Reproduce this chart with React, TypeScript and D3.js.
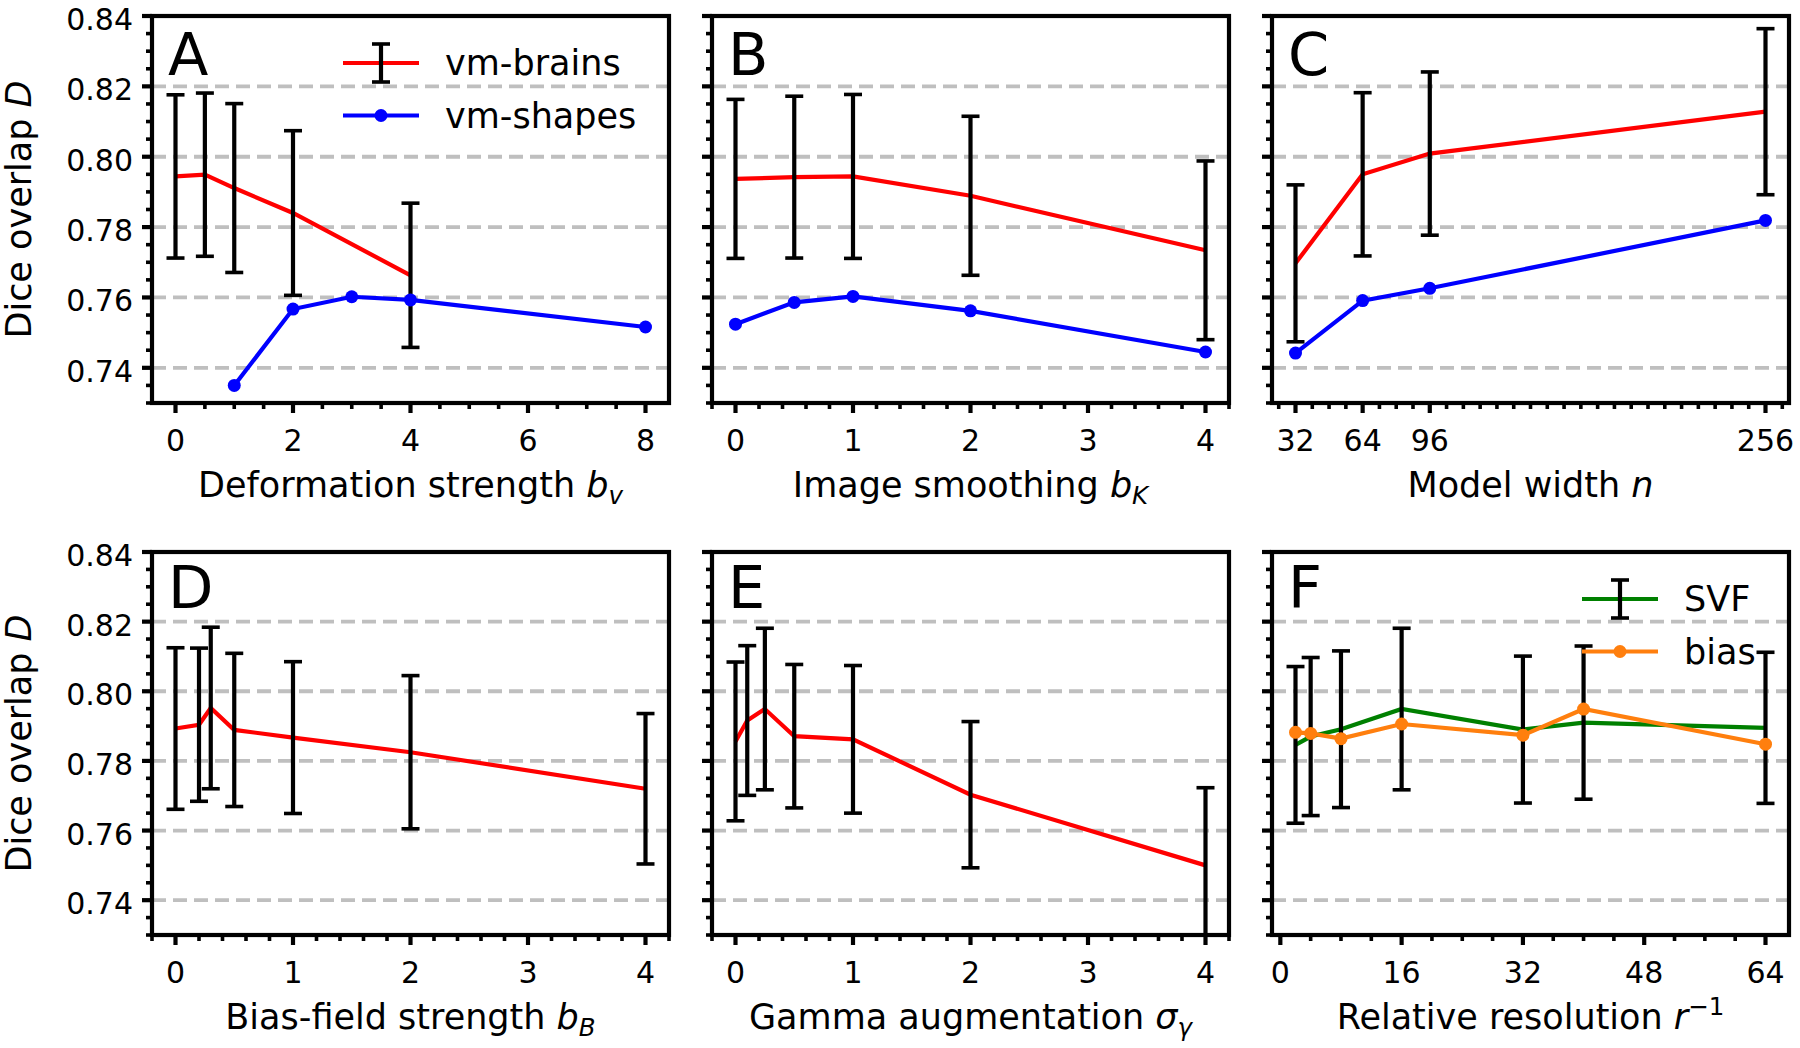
import React from 'react';
import * as d3 from 'd3';

const FONT = "'DejaVu Sans', sans-serif";
const TICK_FS = 30;
const LABEL_FS = 35;
const LETTER_FS = 59;
const LEGEND_FS = 35;

// ---------- shared axis data ----------
const yDomain: [number, number] = [0.73, 0.84];
const yTicks = [0.74, 0.76, 0.78, 0.8, 0.82, 0.84];
const yTickLabels = ['0.74', '0.76', '0.78', '0.80', '0.82', '0.84'];
const yMinorStep = 0.005;

// ---------- Panel A: deformation strength ----------
const defBrainsX = [0, 0.5, 1, 2, 4];
const defBrainsMean = [0.7944, 0.7949, 0.7911, 0.784, 0.7663];
const defBrainsErr = [0.0232, 0.0232, 0.024, 0.0234, 0.0205];
const defShapesX = [1, 2, 3, 4, 8];
const defShapesMean = [0.735, 0.7567, 0.7602, 0.7593, 0.7516];
const defTicks = [0, 2, 4, 6, 8];
const defMinor = 0.5;

// ---------- Panel B: image smoothing ----------
const smoothX = [0, 0.5, 1, 2, 4];
const smoothBrainsMean = [0.7937, 0.7942, 0.7944, 0.7889, 0.7734];
const smoothBrainsErr = [0.0226, 0.023, 0.0233, 0.0226, 0.0254];
const smoothShapesMean = [0.7524, 0.7586, 0.7603, 0.7562, 0.7445];
const smoothTicks = [0, 1, 2, 3, 4];
const smoothMinor = 0.2;

// ---------- Panel C: model width ----------
const widthX = [32, 64, 96, 256];
const widthBrainsMean = [0.7697, 0.795, 0.8009, 0.8128];
const widthBrainsErr = [0.0223, 0.0232, 0.0232, 0.0236];
const widthShapesMean = [0.7442, 0.7591, 0.7626, 0.7819];
const widthTicks = [32, 64, 96, 256];
const widthMinor = 8;

// ---------- Panel D: bias-field strength ----------
const biasFieldX = [0, 0.2, 0.3, 0.5, 1, 2, 4];
const biasFieldMean = [0.7893, 0.7904, 0.7952, 0.7889, 0.7867, 0.7825, 0.772];
const biasFieldErr = [0.0232, 0.022, 0.0232, 0.022, 0.0218, 0.022, 0.0216];
const biasFieldTicks = [0, 1, 2, 3, 4];
const biasFieldMinor = 0.2;

// ---------- Panel E: gamma augmentation ----------
const gammaX = [0, 0.1, 0.25, 0.5, 1, 2, 4];
const gammaMean = [0.7856, 0.7916, 0.7949, 0.7871, 0.7862, 0.7703, 0.75];
const gammaErr = [0.0228, 0.0215, 0.0232, 0.0206, 0.0212, 0.021, 0.0223];
const gammaTicks = [0, 1, 2, 3, 4];
const gammaMinor = 0.2;

// ---------- Panel F: relative resolution ----------
const resX = [2, 4, 8, 16, 32, 40, 64];
const resSvfMean = [0.7846, 0.787, 0.7891, 0.7949, 0.789, 0.791, 0.7895];
const resSvfErr = [0.0225, 0.0227, 0.0225, 0.0232, 0.0211, 0.022, 0.0217];
const resBiasMean = [0.7882, 0.7879, 0.7864, 0.7906, 0.7874, 0.7949, 0.7848];
const resTicks = [0, 16, 32, 48, 64];
const resMinor = 4;

// ---------- layout ----------
const COLS = [152, 712, 1272];
const PW = 517;
const ROWS = [
  { top: 16, bottom: 403 },
  { top: 552, bottom: 935 },
];
const C_RED = '#ff0000';
const C_BLUE = '#0000ff';
const C_GREEN = '#008000';
const C_ORANGE = '#ff7f0e';
const GRID = '#bfbfbf';
const LW = 4.2;

type Seg = { t: string; i?: boolean; sub?: boolean; sup?: boolean };
type Series = {
  x: number[];
  mean: number[];
  err?: number[];
  color: string;
  marker?: boolean;
};
type Legend = {
  textX: number;
  rows: { label: string; color: string; err?: boolean; marker?: boolean }[];
};
type PanelCfg = {
  id: string;
  letter: string;
  col: number;
  row: number;
  ticks: number[];
  minor: number;
  xlabel: Seg[];
  series: Series[];
  legend?: Legend;
};

const panels: PanelCfg[] = [
  {
    id: 'A', letter: 'A', col: 0, row: 0, ticks: defTicks, minor: defMinor,
    xlabel: [{ t: 'Deformation strength ' }, { t: 'b', i: true }, { t: 'v', i: true, sub: true }],
    series: [
      { x: defBrainsX, mean: defBrainsMean, err: defBrainsErr, color: C_RED },
      { x: defShapesX, mean: defShapesMean, color: C_BLUE, marker: true },
    ],
    legend: {
      textX: 445,
      rows: [
        { label: 'vm-brains', color: C_RED, err: true },
        { label: 'vm-shapes', color: C_BLUE, marker: true },
      ],
    },
  },
  {
    id: 'B', letter: 'B', col: 1, row: 0, ticks: smoothTicks, minor: smoothMinor,
    xlabel: [{ t: 'Image smoothing ' }, { t: 'b', i: true }, { t: 'K', i: true, sub: true }],
    series: [
      { x: smoothX, mean: smoothBrainsMean, err: smoothBrainsErr, color: C_RED },
      { x: smoothX, mean: smoothShapesMean, color: C_BLUE, marker: true },
    ],
  },
  {
    id: 'C', letter: 'C', col: 2, row: 0, ticks: widthTicks, minor: widthMinor,
    xlabel: [{ t: 'Model width ' }, { t: 'n', i: true }],
    series: [
      { x: widthX, mean: widthBrainsMean, err: widthBrainsErr, color: C_RED },
      { x: widthX, mean: widthShapesMean, color: C_BLUE, marker: true },
    ],
  },
  {
    id: 'D', letter: 'D', col: 0, row: 1, ticks: biasFieldTicks, minor: biasFieldMinor,
    xlabel: [{ t: 'Bias-field strength ' }, { t: 'b', i: true }, { t: 'B', i: true, sub: true }],
    series: [{ x: biasFieldX, mean: biasFieldMean, err: biasFieldErr, color: C_RED }],
  },
  {
    id: 'E', letter: 'E', col: 1, row: 1, ticks: gammaTicks, minor: gammaMinor,
    xlabel: [{ t: 'Gamma augmentation ' }, { t: 'σ', i: true }, { t: 'γ', i: true, sub: true }],
    series: [{ x: gammaX, mean: gammaMean, err: gammaErr, color: C_RED }],
  },
  {
    id: 'F', letter: 'F', col: 2, row: 1, ticks: resTicks, minor: resMinor,
    xlabel: [{ t: 'Relative resolution ' }, { t: 'r', i: true }, { t: '−1', sup: true }],
    series: [
      { x: resX, mean: resSvfMean, err: resSvfErr, color: C_GREEN },
      { x: resX, mean: resBiasMean, color: C_ORANGE, marker: true },
    ],
    legend: {
      textX: 1684,
      rows: [
        { label: 'SVF', color: C_GREEN, err: true },
        { label: 'bias', color: C_ORANGE, marker: true },
      ],
    },
  },
];

function minorTicks(domain: [number, number], step: number, majors: number[]) {
  const out: number[] = [];
  const k0 = Math.ceil(domain[0] / step - 1e-9);
  const k1 = Math.floor(domain[1] / step + 1e-9);
  for (let k = k0; k <= k1; k++) {
    const v = +(k * step).toFixed(6);
    if (!majors.some((m) => Math.abs(m - v) < 1e-9)) out.push(v);
  }
  return out;
}

function ErrBar({ x, y1, y2, cap }: { x: number; y1: number; y2: number; cap: number }) {
  return (
    <g stroke="#000" strokeWidth={LW} fill="none">
      <line x1={x} x2={x} y1={y1} y2={y2} />
      <line x1={x - cap} x2={x + cap} y1={y1} y2={y1} strokeWidth={3.6} />
      <line x1={x - cap} x2={x + cap} y1={y2} y2={y2} strokeWidth={3.6} />
    </g>
  );
}

function Panel({ cfg }: { cfg: PanelCfg }) {
  const left = COLS[cfg.col];
  const right = left + PW;
  const { top, bottom } = ROWS[cfg.row];
  const allX = cfg.series.flatMap((s) => s.x);
  const [xmin, xmax] = d3.extent(allX) as [number, number];
  const pad = (xmax - xmin) * 0.05;
  const xDomain: [number, number] = [xmin - pad, xmax + pad];
  const x = d3.scaleLinear().domain(xDomain).range([left, right]);
  const y = d3.scaleLinear().domain(yDomain).range([bottom, top]);
  const clipId = `clip-${cfg.id}`;
  const xMinor = minorTicks(xDomain, cfg.minor, cfg.ticks);
  const yMinor = minorTicks(yDomain, yMinorStep, yTicks);
  const cx = (left + right) / 2;

  return (
    <g>
      <defs>
        <clipPath id={clipId}>
          <rect x={left} y={top} width={PW} height={bottom - top} />
        </clipPath>
      </defs>
      {/* grid */}
      <g clipPath={`url(#${clipId})`}>
        {yTicks.map((t) => (
          <line
            key={t}
            x1={left}
            x2={right}
            y1={y(t)}
            y2={y(t)}
            stroke={GRID}
            strokeWidth={3.8}
            strokeDasharray="14 7"
          />
        ))}
      </g>
      {/* data */}
      <g clipPath={`url(#${clipId})`}>
        {cfg.series.map((s, si) => {
          const pts: [number, number][] = s.x.map((xv, i) => [x(xv), y(s.mean[i])]);
          const path = d3.line()(pts) || '';
          return (
            <g key={si}>
              <path d={path} fill="none" stroke={s.color} strokeWidth={LW} strokeLinejoin="miter" />
              {s.err &&
                s.x.map((xv, i) => (
                  <ErrBar
                    key={i}
                    x={x(xv)}
                    y1={y(s.mean[i] + s.err![i])}
                    y2={y(s.mean[i] - s.err![i])}
                    cap={9}
                  />
                ))}
              {s.marker &&
                pts.map((p, i) => <circle key={i} cx={p[0]} cy={p[1]} r={6.5} fill={s.color} />)}
            </g>
          );
        })}
      </g>
      {/* spines */}
      <rect x={left} y={top} width={PW} height={bottom - top} fill="none" stroke="#000" strokeWidth={4.2} />
      {/* ticks */}
      <g stroke="#000">
        {yTicks.map((t) => (
          <line key={t} x1={left - 10} x2={left} y1={y(t)} y2={y(t)} strokeWidth={4.2} />
        ))}
        {yMinor.map((t) => (
          <line key={t} x1={left - 6} x2={left} y1={y(t)} y2={y(t)} strokeWidth={3.6} />
        ))}
        {cfg.ticks.map((t) => (
          <line key={t} x1={x(t)} x2={x(t)} y1={bottom} y2={bottom + 10} strokeWidth={4.2} />
        ))}
        {xMinor.map((t) => (
          <line key={t} x1={x(t)} x2={x(t)} y1={bottom} y2={bottom + 6} strokeWidth={3.6} />
        ))}
      </g>
      {/* tick labels */}
      <g fontFamily={FONT} fontSize={TICK_FS} fill="#000">
        {cfg.col === 0 &&
          yTicks.map((t, i) => (
            <text key={t} x={left - 19} y={y(t) + 14} textAnchor="end">
              {yTickLabels[i]}
            </text>
          ))}
        {cfg.ticks.map((t) => (
          <text key={t} x={x(t)} y={bottom + 48} textAnchor="middle">
            {String(t)}
          </text>
        ))}
      </g>
      {/* x label */}
      <text x={cx} y={bottom + 94} textAnchor="middle" fontFamily={FONT} fontSize={LABEL_FS}>
        {cfg.xlabel.map((s, i) => (
          <tspan
            key={i}
            fontStyle={s.i ? 'italic' : 'normal'}
            fontSize={s.sub || s.sup ? LABEL_FS * 0.7 : LABEL_FS}
            dy={s.sub ? 7 : s.sup ? -14 : 0}
          >
            {s.t}
          </tspan>
        ))}
      </text>
      {/* y label */}
      {cfg.col === 0 && (
        <text
          transform={`translate(31,${(top + bottom) / 2}) rotate(-90)`}
          textAnchor="middle"
          fontFamily={FONT}
          fontSize={LABEL_FS}
        >
          <tspan>Dice overlap </tspan>
          <tspan fontStyle="italic">D</tspan>
        </text>
      )}
      {/* panel letter */}
      <text x={left + 16} y={top + (cfg.row === 0 ? 59 : 56)} fontFamily={FONT} fontSize={LETTER_FS}>
        {cfg.letter}
      </text>
      {/* legend */}
      {cfg.legend && (
        <g>
          {cfg.legend.rows.map((r, i) => {
            const ry = top + 47 + i * 52.5;
            const tx = cfg.legend!.textX;
            const lx1 = tx - 26 - 76;
            const lx2 = tx - 26;
            const mx = (lx1 + lx2) / 2;
            return (
              <g key={i}>
                <line x1={lx1} x2={lx2} y1={ry} y2={ry} stroke={r.color} strokeWidth={LW} />
                {r.err && <ErrBar x={mx} y1={ry - 19} y2={ry + 19} cap={9} />}
                {r.marker && <circle cx={mx} cy={ry} r={6.5} fill={r.color} />}
                <text x={tx} y={ry + 12} fontFamily={FONT} fontSize={LEGEND_FS}>
                  {r.label}
                </text>
              </g>
            );
          })}
        </g>
      )}
    </g>
  );
}

export default function App() {
  return (
    <svg
      width={1800}
      height={1048}
      viewBox="0 0 1800 1048"
      style={{ position: 'absolute', left: 0, top: 0, background: '#fff' }}
    >
      <rect x={0} y={0} width={1800} height={1048} fill="#fff" />
      {panels.map((p) => (
        <Panel key={p.id} cfg={p} />
      ))}
    </svg>
  );
}
